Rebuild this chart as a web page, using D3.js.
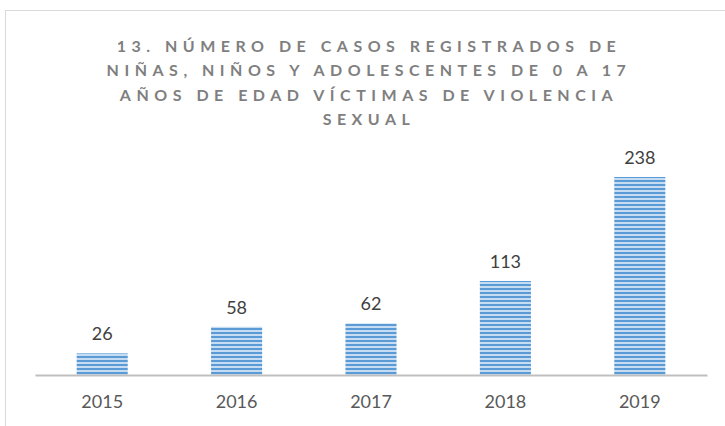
<!DOCTYPE html>
<html>
<head>
<meta charset="utf-8">
<script src="https://cdn.jsdelivr.net/npm/d3@7"></script>
<style>
  body { margin: 0; background: #fff; }
  svg { display: block; font-family: Lato, "Open Sans", sans-serif; }
</style>
</head>
<body>
<div id="chart"></div>
<script>
// data
var years = ["2015", "2016", "2017", "2018", "2019"];
var cases = [26, 58, 62, 113, 238];
var titleLines = [
    "13. NÚMERO DE CASOS REGISTRADOS DE",
    "NIÑAS, NIÑOS Y ADOLESCENTES DE 0 A 17",
    "AÑOS DE EDAD VÍCTIMAS DE VIOLENCIA",
    "SEXUAL"
];

var w = 725, h = 426;

var svg = d3.select("#chart").append("svg")
    .attr("width", w)
    .attr("height", h);

// stripe pattern for the bars
var defs = svg.append("defs");
var pat = defs.append("pattern")
    .attr("id", "stripes")
    .attr("patternUnits", "userSpaceOnUse")
    .attr("width", 8)
    .attr("height", 4);
pat.append("rect").attr("width", 8).attr("height", 4).attr("fill", "#c5dcf2");
pat.append("rect").attr("width", 8).attr("height", 2).attr("fill", "#5b9bd5");

// chart frame (runs off the picture on the right and bottom)
svg.append("rect")
    .attr("x", 5.5).attr("y", 10.5)
    .attr("width", 760).attr("height", 460)
    .attr("fill", "none")
    .attr("stroke", "#d9d9d9");

// title
svg.append("g").selectAll("text")
    .data(titleLines)
    .enter()
    .append("text")
    .attr("x", 369)
    .attr("y", function(d, i) { return 52 + i * 24.3; })
    .attr("text-anchor", "middle")
    .attr("fill", "#7f7f7f")
    .attr("font-size", 16)
    .attr("font-weight", "bold")
    .attr("letter-spacing", "5.5px")
    .text(function(d) { return d; });

var x = d3.scaleBand().domain(years)
    .range([35, 707])
    .paddingInner(0.62)
    .paddingOuter(0.31);

var y = d3.scaleLinear().domain([0, 250]).range([375, 167]);

// bars
svg.append("g").selectAll("rect")
    .data(cases)
    .enter()
    .append("rect")
    .attr("x", function(d, i) { return x(years[i]); })
    .attr("y", function(d) { return y(d); })
    .attr("width", x.bandwidth())
    .attr("height", function(d) { return y(0) - y(d); })
    .attr("fill", "url(#stripes)");

// value labels
svg.append("g").selectAll("text")
    .data(cases)
    .enter()
    .append("text")
    .attr("x", function(d, i) { return x(years[i]) + x.bandwidth() / 2; })
    .attr("y", function(d) { return y(d) - 13; })
    .attr("text-anchor", "middle")
    .attr("fill", "#404040")
    .attr("font-size", 18)
    .text(function(d) { return d; });

// x axis
var xAxis = d3.axisBottom(x).tickSize(0).tickPadding(20);
var gx = svg.append("g")
    .attr("transform", "translate(0," + y(0) + ")")
    .call(xAxis);
gx.select(".domain").attr("stroke", "#bfbfbf").attr("stroke-width", 2);
gx.selectAll("text")
    .attr("fill", "#595959")
    .attr("font-size", 18)
    .attr("font-family", "Lato, 'Open Sans', sans-serif");
</script>
</body>
</html>
